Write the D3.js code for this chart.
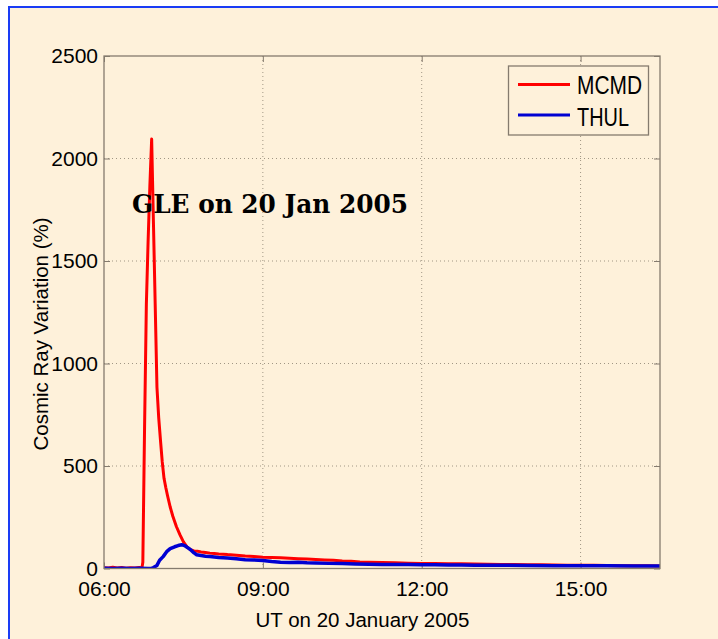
<!DOCTYPE html>
<html>
<head>
<meta charset="utf-8">
<script src="https://cdn.jsdelivr.net/npm/d3@7"></script>
<style>
  html, body { margin: 0; padding: 0; background: #ffffff; }
  text { fill: #000; }
</style>
</head>
<body>
<div id="my_dataviz"></div>
<script>
// data (percent variation vs UT)
var mcmdTimes = ["06:00", "06:05", "06:10", "06:15", "06:20", "06:25", "06:30", "06:35", "06:40", "06:43",
  "06:44", "06:46", "06:48", "06:50", "06:52", "06:54", "06:56", "06:58", "07:00", "07:02",
  "07:04", "07:06", "07:08", "07:10", "07:12", "07:15", "07:18", "07:22", "07:26", "07:30",
  "07:34", "07:38", "07:42", "07:46", "07:50", "07:55", "08:00", "08:05", "08:10", "08:15",
  "08:20", "08:30", "08:40", "08:50", "09:00", "09:10", "09:20", "09:30", "09:40", "09:50",
  "10:00", "10:10", "10:20", "10:30", "10:40", "10:50", "11:00", "11:15", "11:30", "11:45",
  "12:00", "12:15", "12:30", "12:45", "13:00", "13:15", "13:30", "13:45", "14:00", "14:15",
  "14:30", "14:45", "15:00", "15:15", "15:30", "15:45", "16:00", "16:15", "16:30"];
var mcmdValues = [4, 2, 6, 3, 5, 1, 4, 2, 5, 3,
  30, 700, 1290, 1600, 1870, 2095, 1690, 1290, 884, 735,
  625, 520, 440, 395, 355, 300, 255, 205, 165, 130,
  105, 92, 86, 84, 81, 78, 75, 73, 71, 70,
  68, 65, 61, 58, 55, 54, 52, 50, 48, 46,
  44, 42, 40, 37, 35, 32, 31, 29, 28, 26,
  25, 24, 23, 23, 22, 21, 20, 19, 18, 18,
  17, 16, 16, 16, 15, 14, 13, 13, 12];

var thulTimes = ["06:00", "06:10", "06:20", "06:30", "06:40", "06:50", "06:54", "06:56", "07:00", "07:03",
  "07:07", "07:11", "07:15", "07:20", "07:24", "07:28", "07:32", "07:36", "07:39", "07:42",
  "07:45", "07:50", "07:55", "08:00", "08:10", "08:20", "08:30", "08:40", "08:50", "09:00",
  "09:10", "09:20", "09:30", "09:40", "09:50", "10:00", "10:15", "10:30", "10:45", "11:00",
  "11:15", "11:30", "11:45", "12:00", "12:15", "12:30", "12:45", "13:00", "13:30", "14:00",
  "14:30", "15:00", "15:30", "16:00", "16:30"];
var thulValues = [1, 0, 1, 0, 1, 0, 1, 5, 15, 40,
  58, 82, 97, 106, 112, 116, 110, 98, 88, 76,
  67, 63, 60, 58, 54, 51, 47, 43, 42, 39,
  34, 31, 29, 30, 28, 27, 25, 24, 22, 21,
  20, 20, 19, 18, 18, 17, 17, 16, 16, 15,
  14, 13, 13, 12, 12];

var xTicks = [6, 9, 12, 15],
  xTickLabels = ["06:00", "09:00", "12:00", "15:00"],
  yTicks = [0, 500, 1000, 1500, 2000, 2500];

var seriesNames = ["MCMD", "THUL"],
  seriesColors = ["#ff0000", "#0000d2"];

function toHours(s) {
  var p = s.split(":");
  return +p[0] + p[1] / 60;
}

// set the dimensions and margins of the graph
var margin = { top: 56, right: 58, bottom: 70.5, left: 104 },
  width = 718 - margin.left - margin.right,
  height = 639 - margin.top - margin.bottom;

var axisColor = "#857b6e",
  bg = "#fef1da",
  sans = "Liberation Sans, Arial, sans-serif";

var root = d3.select("#my_dataviz")
  .append("svg")
  .attr("width", 718)
  .attr("height", 639);

// cream figure background with the blue frame
root.append("rect")
  .attr("x", 9).attr("y", 7)
  .attr("width", 718).attr("height", 639)
  .attr("fill", bg)
  .attr("stroke", "#1a3cf5")
  .attr("stroke-width", 2);

var svg = root.append("g")
  .attr("transform", "translate(" + margin.left + "," + margin.top + ")");

var x = d3.scaleLinear()
  .domain([6, 16.5])
  .range([0, width]);
var y = d3.scaleLinear()
  .domain([0, 2500])
  .range([height, 0]);

// dotted grid
svg.append("g")
  .selectAll("line")
  .data(xTicks.slice(1))
  .enter()
  .append("line")
  .attr("x1", function(d) { return x(d); })
  .attr("x2", function(d) { return x(d); })
  .attr("y1", 0).attr("y2", height)
  .attr("stroke", "#a09684")
  .attr("stroke-width", 1)
  .attr("stroke-dasharray", "1,3");
svg.append("g")
  .selectAll("line")
  .data(yTicks.slice(1, -1))
  .enter()
  .append("line")
  .attr("y1", function(d) { return y(d); })
  .attr("y2", function(d) { return y(d); })
  .attr("x1", 0).attr("x2", width)
  .attr("stroke", "#a09684")
  .attr("stroke-width", 1)
  .attr("stroke-dasharray", "1,3");

// axes (inward ticks, mirrored on top and right)
var xAxis = svg.append("g")
  .attr("transform", "translate(0," + height + ")")
  .call(d3.axisBottom(x).tickValues(xTicks)
    .tickFormat(function(d, i) { return xTickLabels[i]; })
    .tickSizeInner(-6).tickSizeOuter(0).tickPadding(13));
var xAxisTop = svg.append("g")
  .call(d3.axisTop(x).tickValues(xTicks).tickFormat("")
    .tickSizeInner(-6).tickSizeOuter(0));
var yAxis = svg.append("g")
  .call(d3.axisLeft(y).tickValues(yTicks).tickFormat(d3.format("d"))
    .tickSizeInner(-6).tickSizeOuter(0).tickPadding(6));
var yAxisRight = svg.append("g")
  .attr("transform", "translate(" + width + ",0)")
  .call(d3.axisRight(y).tickValues(yTicks).tickFormat("")
    .tickSizeInner(-6).tickSizeOuter(0));

[xAxis, xAxisTop, yAxis, yAxisRight].forEach(function(a) {
  a.select(".domain").remove();
  a.selectAll(".tick line").attr("stroke", axisColor);
  a.selectAll(".tick text")
    .style("font-family", sans)
    .style("font-size", "21px")
    .attr("fill", "#000");
});

// clip for the data lines
svg.append("clipPath")
  .attr("id", "clip")
  .append("rect")
  .attr("width", width)
  .attr("height", height);

var line = d3.line()
  .x(function(d) { return x(d.t); })
  .y(function(d) { return y(d.v); });

var mcmd = mcmdTimes.map(function(t, i) { return { t: toHours(t), v: mcmdValues[i] }; });
var thul = thulTimes.map(function(t, i) { return { t: toHours(t), v: thulValues[i] }; });

svg.append("path")
  .datum(mcmd)
  .attr("clip-path", "url(#clip)")
  .attr("fill", "none")
  .attr("stroke", seriesColors[0])
  .attr("stroke-width", 3)
  .attr("stroke-linejoin", "round")
  .attr("d", line);
svg.append("path")
  .datum(thul)
  .attr("clip-path", "url(#clip)")
  .attr("fill", "none")
  .attr("stroke", seriesColors[1])
  .attr("stroke-width", 3.5)
  .attr("stroke-linejoin", "round")
  .attr("d", line);

// plot box
svg.append("rect")
  .attr("width", width)
  .attr("height", height)
  .attr("fill", "none")
  .attr("stroke", axisColor)
  .attr("stroke-width", 1.3);

// annotation
svg.append("text")
  .attr("x", 132 - margin.left)
  .attr("y", 213 - margin.top)
  .style("font-family", "DejaVu Serif, Liberation Serif, serif")
  .style("font-weight", "bold")
  .style("font-size", "26px")
  .attr("textLength", 276)
  .attr("lengthAdjust", "spacingAndGlyphs")
  .text("GLE on 20 Jan 2005");

// axis labels
root.append("text")
  .attr("text-anchor", "middle")
  .attr("x", 362.5)
  .attr("y", 627)
  .style("font-family", sans)
  .style("font-size", "20.5px")
  .text("UT on 20 January 2005");
root.append("text")
  .attr("text-anchor", "middle")
  .attr("transform", "translate(48,334)rotate(-90)")
  .style("font-family", sans)
  .style("font-size", "20.5px")
  .text("Cosmic Ray Variation (%)");

// legend
var legend = root.append("g");
legend.append("rect")
  .attr("x", 508.5).attr("y", 66)
  .attr("width", 140).attr("height", 69)
  .attr("fill", bg)
  .attr("stroke", axisColor)
  .attr("stroke-width", 1.3);
var legendY = [84.5, 115],
  legendBase = [94, 126],
  legendWidths = [65, 52];
seriesNames.forEach(function(name, i) {
  legend.append("line")
    .attr("x1", 518).attr("x2", 570)
    .attr("y1", legendY[i]).attr("y2", legendY[i])
    .attr("stroke", seriesColors[i])
    .attr("stroke-width", 3);
  legend.append("text")
    .attr("x", 577)
    .attr("y", legendBase[i])
    .style("font-family", sans)
    .style("font-size", "25px")
    .attr("textLength", legendWidths[i])
    .attr("lengthAdjust", "spacingAndGlyphs")
    .text(name);
});
</script>
</body>
</html>
